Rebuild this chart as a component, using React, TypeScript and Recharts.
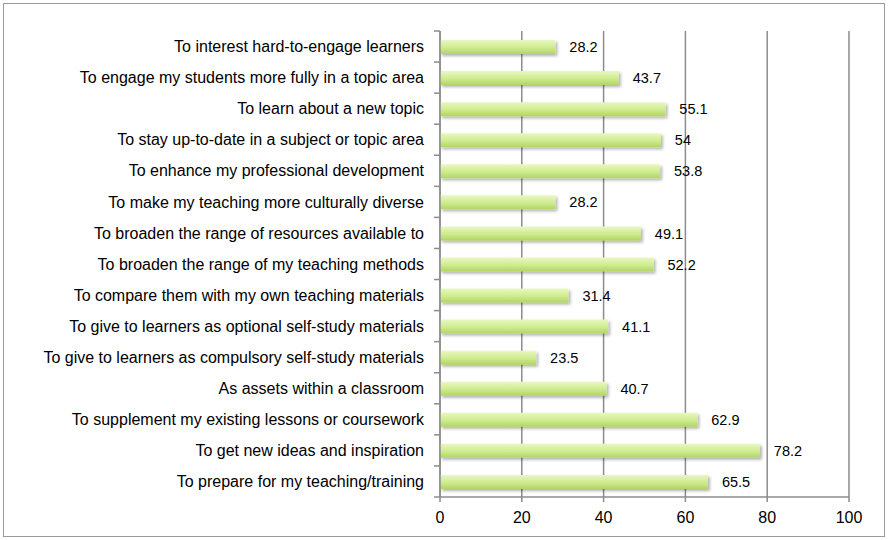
import { BarChart, Bar, XAxis, YAxis, CartesianGrid, LabelList } from 'recharts';

// 上から順に並べたカテゴリ
const reasons = [
  'To interest hard-to-engage learners',
  'To engage my students more fully in a topic area',
  'To learn about a new topic',
  'To stay up-to-date in a subject or topic area',
  'To enhance my professional development',
  'To make my teaching more culturally diverse',
  'To broaden the range of resources available to',
  'To broaden the range of my teaching methods',
  'To compare them with my own teaching materials',
  'To give to learners as optional self-study materials',
  'To give to learners as compulsory self-study materials',
  'As assets within a classroom',
  'To supplement my existing lessons or coursework',
  'To get new ideas and inspiration',
  'To prepare for my teaching/training',
];

const percents = [28.2, 43.7, 55.1, 54, 53.8, 28.2, 49.1, 52.2, 31.4, 41.1, 23.5, 40.7, 62.9, 78.2, 65.5];

const xTicks = [0, 20, 40, 60, 80, 100];

const data = reasons.map((name, i) => ({ name, value: percents[i] }));

const font = 'Liberation Sans, Arial, sans-serif';
const axisColor = '#8c8c8c';

const CHART_H = 540;
const TOP = 31;
const BOTTOM = 43;
const band = (CHART_H - TOP - BOTTOM) / reasons.length;

// カテゴリ境界に小さな目盛りを描く
const CategoryTick = (props: any) => {
  const { x, y, payload, index } = props;
  const axisX = x + 10;
  return (
    <g>
      <text x={x - 6} y={y} dy="0.355em" textAnchor="end" fontSize={16} fill="#000" fontFamily={font}>
        {payload.value}
      </text>
      <line x1={axisX - 6} x2={axisX} y1={y - band / 2} y2={y - band / 2} stroke={axisColor} strokeWidth={1.5} />
      {index === reasons.length - 1 && (
        <line x1={axisX - 6} x2={axisX} y1={y + band / 2} y2={y + band / 2} stroke={axisColor} strokeWidth={1.5} />
      )}
    </g>
  );
};

const App = () => {
  return (
    <div style={{ position: 'absolute', left: 0, top: 0, width: 888, height: 540, background: '#fff' }}>
      <div
        style={{
          position: 'absolute',
          left: 3,
          top: 3,
          width: 880,
          height: 532,
          border: '1px solid #9a9a9a',
        }}
      />
      <BarChart
        width={888}
        height={CHART_H}
        data={data}
        layout="vertical"
        margin={{ top: TOP, right: 39, bottom: BOTTOM - 30, left: 0 }}
        style={{ position: 'absolute', left: 0, top: 0, fontFamily: font }}
      >
        <defs>
          <linearGradient id="barFill" x1="0" y1="0" x2="0" y2="1">
            <stop offset="0%" stopColor="#e8f8c0" />
            <stop offset="55%" stopColor="#cfeb8e" />
            <stop offset="100%" stopColor="#b1d564" />
          </linearGradient>
          <filter id="barShadow" x="-5%" y="-30%" width="110%" height="180%">
            <feDropShadow dx="2" dy="2" stdDeviation="1.5" floodColor="#000" floodOpacity="0.3" />
          </filter>
        </defs>
        <CartesianGrid horizontal={false} stroke={axisColor} strokeWidth={1.5} />
        <XAxis
          type="number"
          domain={[0, 100]}
          ticks={xTicks}
          height={30}
          tickSize={5}
          tickMargin={10}
          axisLine={{ stroke: axisColor, strokeWidth: 1.5 }}
          tickLine={{ stroke: axisColor, strokeWidth: 1.5 }}
          tick={{ fontSize: 16, fill: '#000', fontFamily: font }}
        />
        <YAxis
          type="category"
          dataKey="name"
          width={440}
          interval={0}
          tickSize={0}
          tickMargin={10}
          axisLine={{ stroke: axisColor, strokeWidth: 1.5 }}
          tickLine={false}
          tick={<CategoryTick />}
        />
        <Bar
          dataKey="value"
          fill="url(#barFill)"
          barSize={14}
          filter="url(#barShadow)"
          isAnimationActive={false}
        >
          <LabelList
            dataKey="value"
            position="right"
            offset={14}
            style={{ fontSize: 14.5, fill: '#000', fontFamily: font }}
          />
        </Bar>
      </BarChart>
    </div>
  );
};

export default App;
